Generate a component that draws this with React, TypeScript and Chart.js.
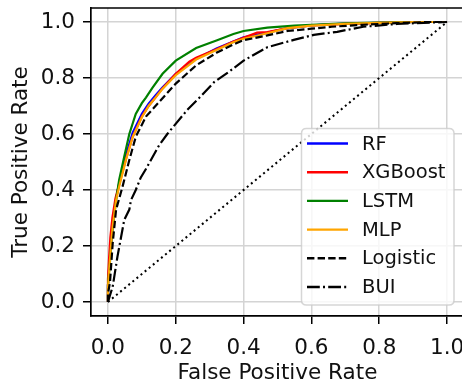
import React, { useEffect, useRef } from "react";
import { Chart, registerables } from "chart.js";

Chart.register(...registerables);

// ---------- data ----------
const xTicks = [0, 0.2, 0.4, 0.6, 0.8, 1.0];
const yTicks = [0, 0.2, 0.4, 0.6, 0.8, 1.0];

const seriesLabels = ["RF", "XGBoost", "LSTM", "MLP", "Logistic", "BUI"];

const rfFpr = [0, 0, 0.004, 0.009, 0.014, 0.024, 0.033, 0.053, 0.073, 0.1, 0.12, 0.14, 0.16, 0.2, 0.26, 0.32, 0.37, 0.4, 0.47, 0.53, 0.6, 0.7, 0.8, 0.9, 1.0];
const rfTpr = [0, 0.06, 0.13, 0.21, 0.28, 0.37, 0.425, 0.525, 0.605, 0.672, 0.708, 0.738, 0.765, 0.815, 0.868, 0.905, 0.93, 0.945, 0.962, 0.978, 0.988, 0.994, 0.997, 1.0, 1.0];

const xgbFpr = [0, 0, 0.003, 0.007, 0.013, 0.022, 0.033, 0.053, 0.073, 0.1, 0.12, 0.14, 0.16, 0.2, 0.24, 0.26, 0.32, 0.37, 0.44, 0.47, 0.53, 0.6, 0.7, 0.8, 0.9, 1.0];
const xgbTpr = [0, 0.08, 0.15, 0.23, 0.3, 0.37, 0.42, 0.51, 0.59, 0.662, 0.7, 0.73, 0.762, 0.815, 0.858, 0.872, 0.903, 0.93, 0.962, 0.964, 0.978, 0.988, 0.993, 0.997, 1.0, 1.0];

const lstmFpr = [0, 0, 0.005, 0.012, 0.024, 0.033, 0.048, 0.063, 0.082, 0.1, 0.112, 0.131, 0.161, 0.2, 0.26, 0.32, 0.37, 0.4, 0.47, 0.55, 0.6, 0.7, 0.8, 0.9, 1.0];
const lstmTpr = [0, 0.06, 0.13, 0.24, 0.364, 0.436, 0.519, 0.6, 0.672, 0.71, 0.73, 0.765, 0.815, 0.862, 0.907, 0.934, 0.957, 0.968, 0.98, 0.987, 0.99, 0.995, 0.998, 1.0, 1.0];

const mlpFpr = [0, 0, 0.004, 0.009, 0.014, 0.024, 0.033, 0.053, 0.073, 0.1, 0.12, 0.14, 0.16, 0.2, 0.26, 0.32, 0.37, 0.4, 0.47, 0.53, 0.6, 0.7, 0.8, 0.9, 1.0];
const mlpTpr = [0, 0.05, 0.12, 0.2, 0.27, 0.364, 0.412, 0.507, 0.59, 0.66, 0.7, 0.73, 0.76, 0.81, 0.866, 0.9, 0.928, 0.94, 0.96, 0.978, 0.987, 0.993, 0.997, 1.0, 1.0];

const logFpr = [0, 0, 0.006, 0.014, 0.024, 0.043, 0.063, 0.082, 0.112, 0.155, 0.2, 0.26, 0.32, 0.37, 0.4, 0.47, 0.53, 0.6, 0.66, 0.75, 0.85, 0.95, 1.0];
const logTpr = [0, 0.03, 0.07, 0.21, 0.33, 0.412, 0.507, 0.59, 0.662, 0.72, 0.78, 0.845, 0.89, 0.92, 0.935, 0.952, 0.968, 0.976, 0.983, 0.99, 0.996, 1.0, 1.0];

const buiFpr = [0, 0.005, 0.014, 0.028, 0.048, 0.063, 0.068, 0.082, 0.097, 0.112, 0.151, 0.175, 0.234, 0.274, 0.313, 0.36, 0.4, 0.47, 0.548, 0.607, 0.676, 0.753, 0.852, 0.95, 1.0];
const buiTpr = [0, 0.02, 0.055, 0.162, 0.293, 0.33, 0.364, 0.4, 0.445, 0.475, 0.56, 0.6, 0.686, 0.735, 0.785, 0.825, 0.862, 0.91, 0.936, 0.954, 0.965, 0.983, 0.993, 0.998, 1.0];

const chanceFpr = [0, 1];
const chanceTpr = [0, 1];

// ---------- styles ----------
const FONT = "'DejaVu Sans', sans-serif";
const TEXT = "#111";
const LW = 2.2;
const DASHED = [7.4, 3.2];
const DASHDOT = [12.8, 3.2, 2, 3.2];
const DOTTED = [2, 3.3];

const styles = [
  { color: "#0000ff", dash: [] as number[] },
  { color: "#ff0000", dash: [] as number[] },
  { color: "#008000", dash: [] as number[] },
  { color: "#ffa500", dash: [] as number[] },
  { color: "#000000", dash: DASHED },
  { color: "#000000", dash: DASHDOT },
];

const toPts = (xs: number[], ys: number[]) => xs.map((x, i) => ({ x, y: ys[i] }));

const legendPlugin = {
  id: "customLegend",
  afterDatasetsDraw(chart: any) {
    const { ctx, chartArea } = chart;
    ctx.save();
    // top/right spines
    ctx.strokeStyle = "#000";
    ctx.lineWidth = 1.7;
    ctx.beginPath();
    ctx.moveTo(chartArea.left, chartArea.top);
    ctx.lineTo(chartArea.right, chartArea.top);
    ctx.lineTo(chartArea.right, chartArea.bottom);
    ctx.stroke();

    // legend box
    const w = 152.5;
    const h = 176.5;
    const x0 = chartArea.right - 10 - w;
    const y0 = chartArea.bottom - 11 - h;
    const r = 5;
    ctx.beginPath();
    ctx.moveTo(x0 + r, y0);
    ctx.lineTo(x0 + w - r, y0);
    ctx.quadraticCurveTo(x0 + w, y0, x0 + w, y0 + r);
    ctx.lineTo(x0 + w, y0 + h - r);
    ctx.quadraticCurveTo(x0 + w, y0 + h, x0 + w - r, y0 + h);
    ctx.lineTo(x0 + r, y0 + h);
    ctx.quadraticCurveTo(x0, y0 + h, x0, y0 + h - r);
    ctx.lineTo(x0, y0 + r);
    ctx.quadraticCurveTo(x0, y0, x0 + r, y0);
    ctx.closePath();
    ctx.fillStyle = "rgba(255,255,255,0.8)";
    ctx.fill();
    ctx.strokeStyle = "rgba(204,204,204,0.8)";
    ctx.lineWidth = 1.5;
    ctx.stroke();

    ctx.font = `19.5px ${FONT}`;
    ctx.textBaseline = "middle";
    ctx.textAlign = "left";
    seriesLabels.forEach((label, i) => {
      const cy = y0 + 15 + i * 28.7;
      const st = styles[i];
      ctx.strokeStyle = st.color;
      ctx.lineWidth = 2.4;
      ctx.setLineDash(st.dash);
      ctx.lineCap = "butt";
      ctx.beginPath();
      ctx.moveTo(x0 + 5.5, cy);
      ctx.lineTo(x0 + 46.5, cy);
      ctx.stroke();
      ctx.setLineDash([]);
      ctx.fillStyle = TEXT;
      ctx.fillText(label, x0 + 60.5, cy + 1);
    });
    ctx.restore();
  },
};

export default function App() {
  const ref = useRef<HTMLCanvasElement | null>(null);

  useEffect(() => {
    if (!ref.current) return;
    const allFpr = [rfFpr, xgbFpr, lstmFpr, mlpFpr, logFpr, buiFpr];
    const allTpr = [rfTpr, xgbTpr, lstmTpr, mlpTpr, logTpr, buiTpr];
    const datasets: any[] = seriesLabels.map((label, i) => ({
      label,
      data: toPts(allFpr[i], allTpr[i]),
      borderColor: styles[i].color,
      backgroundColor: styles[i].color,
      borderDash: styles[i].dash,
      borderWidth: LW,
      pointRadius: 0,
      showLine: true,
      fill: false,
      tension: 0,
      order: 10 - i,
    }));
    datasets.push({
      label: "chance",
      data: toPts(chanceFpr, chanceTpr),
      borderColor: "#000",
      borderDash: DOTTED,
      borderWidth: 2,
      pointRadius: 0,
      showLine: true,
      fill: false,
      order: 0,
    });

    const tickFont = { family: FONT, size: 21.5 };
    const chart = new Chart(ref.current, {
      type: "scatter",
      data: { datasets },
      options: {
        animation: false,
        responsive: false,
        maintainAspectRatio: false,
        layout: { padding: { top: 8, right: 6, left: 0, bottom: 0 } },
        plugins: { legend: { display: false }, tooltip: { enabled: false } },
        scales: {
          x: {
            type: "linear",
            min: -0.05,
            max: 1.05,
            afterBuildTicks: (s: any) => {
              s.ticks = xTicks.map((v) => ({ value: v }));
            },
            afterFit: (s: any) => {
              s.height = 65;
              s.paddingLeft = 0;
              s.paddingRight = 0;
            },
            ticks: {
              callback: (v: any) => Number(v).toFixed(1),
              font: tickFont,
              color: TEXT,
              padding: 12,
              maxRotation: 0,
              autoSkip: false,
            },
            grid: { color: "#d4d4d4", lineWidth: 1.5, tickColor: "#000", tickLength: 8, tickWidth: 1.5 },
            border: { color: "#000", width: 1.7 },
            title: {
              display: true,
              text: "False Positive Rate",
              font: { family: FONT, size: 21.5, lineHeight: 1.2 },
              color: TEXT,
              padding: { top: 0, bottom: -5 },
            },
          },
          y: {
            type: "linear",
            min: -0.05,
            max: 1.05,
            afterBuildTicks: (s: any) => {
              s.ticks = yTicks.map((v) => ({ value: v }));
            },
            afterFit: (s: any) => {
              s.width = 91;
              s.paddingTop = 0;
              s.paddingBottom = 0;
            },
            ticks: {
              callback: (v: any) => Number(v).toFixed(1),
              font: tickFont,
              color: TEXT,
              padding: 8,
              autoSkip: false,
            },
            grid: { color: "#d4d4d4", lineWidth: 1.5, tickColor: "#000", tickLength: 8, tickWidth: 1.5 },
            border: { color: "#000", width: 1.7 },
            title: {
              display: true,
              text: "True Positive Rate",
              font: { family: FONT, size: 21.5, lineHeight: 1.2 },
              color: TEXT,
              padding: { top: 9, bottom: 0 },
            },
          },
        },
      } as any,
      plugins: [legendPlugin],
    });
    return () => chart.destroy();
  }, []);

  return (
    <div style={{ position: "fixed", left: 0, top: 0, width: 470, height: 381, background: "#fff" }}>
      <canvas ref={ref} width={470} height={381} style={{ width: 470, height: 381, display: "block" }} />
    </div>
  );
}
